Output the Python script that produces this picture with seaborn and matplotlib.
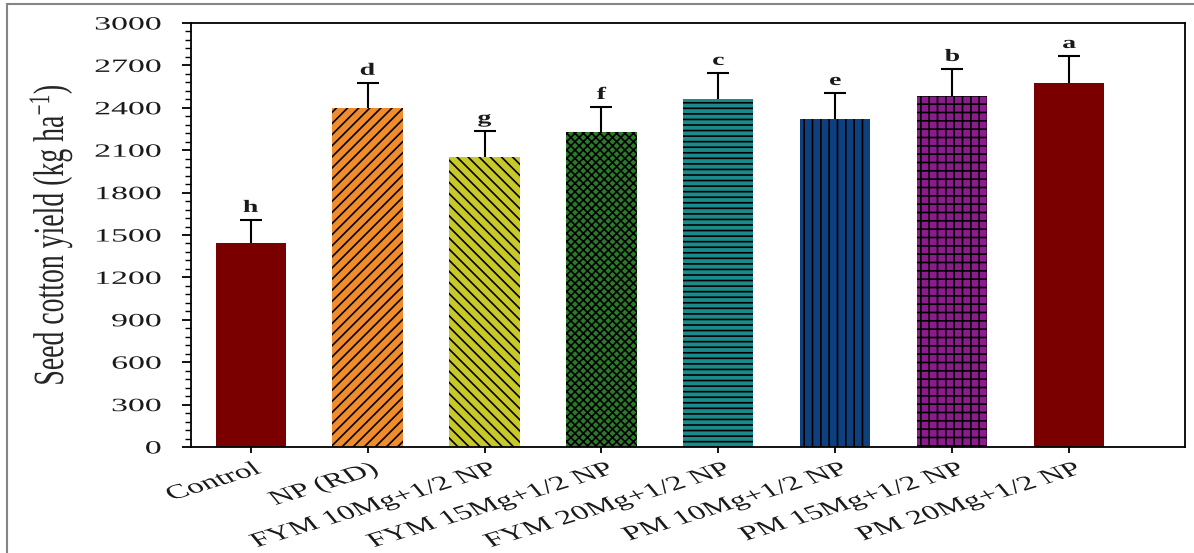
import numpy as np
import pandas as pd
import matplotlib
matplotlib.use("Agg")
import matplotlib.pyplot as plt
import seaborn as sns
from matplotlib.patheffects import AbstractPathEffect
from matplotlib.transforms import Affine2D, ScaledTranslation
from matplotlib.ticker import AutoMinorLocator, FixedLocator
from matplotlib.patches import Rectangle

# ---- data -----------------------------------------------------------------
treatments = ["Control", "NP (RD)", "FYM 10Mg+1/2 NP", "FYM 15Mg+1/2 NP",
              "FYM 20Mg+1/2 NP", "PM 10Mg+1/2 NP", "PM 15Mg+1/2 NP",
              "PM 20Mg+1/2 NP"]
seed_yield = [1445, 2400, 2055, 2229, 2463, 2321, 2484, 2576]
yield_err = [162, 177, 182, 177, 184, 184, 191, 191]
letters = ["h", "d", "g", "f", "c", "e", "b", "a"]
yticks = [0, 300, 600, 900, 1200, 1500, 1800, 2100, 2400, 2700, 3000]

# ---- styling --------------------------------------------------------------
bar_colors = ["#7A0000", "#F08C2C", "#C8C828", "#2A7A2A", "#1A8A8A",
              "#0E3F7E", "#8C1C8C", "#7A0000"]
bar_hatches = ["", "///", "\\\\\\", "xxxx", "---", "||", "++", ""]

sns.set_style("ticks")
plt.rcParams.update({
    "font.family": ["Liberation Serif", "DejaVu Serif"],
    "mathtext.fontset": "custom",
    "mathtext.rm": "Liberation Serif",
    "mathtext.it": "Liberation Serif:italic",
    "mathtext.bf": "Liberation Serif:bold",
    "hatch.color": "black",
    "hatch.linewidth": 1.2,
    "axes.linewidth": 1.3,
    "axes.edgecolor": "black",
    "text.color": "#1a1a1a",
    "xtick.color": "black",
    "ytick.color": "black",
    "xtick.labelcolor": "#1a1a1a",
    "ytick.labelcolor": "#1a1a1a",
})


class WideType(AbstractPathEffect):
    """Render text outlines widened horizontally about one edge of the ink."""

    def __init__(self, factor, keep="center"):
        super().__init__()
        self.factor = factor
        self.keep = keep

    def draw_path(self, renderer, gc, tpath, affine, rgbFace=None):
        ext = tpath.get_extents(affine)
        x0 = {"left": ext.x0, "right": ext.x1,
              "center": 0.5 * (ext.x0 + ext.x1)}[self.keep]
        wide = affine + Affine2D().translate(-x0, 0).scale(self.factor, 1).translate(x0, 0)
        renderer.draw_path(gc, tpath, wide, rgbFace)


df = pd.DataFrame({"treatment": treatments, "yield": seed_yield})

fig = plt.figure(figsize=(11.94, 5.53), dpi=100)
ax = fig.add_axes([191 / 1194, 1 - 447 / 553, (1185 - 191) / 1194, (447 - 23) / 553])

sns.barplot(data=df, x="treatment", y="yield", hue="treatment",
            palette=bar_colors, order=treatments, hue_order=treatments,
            width=0.6, saturation=1, errorbar=None, legend=False,
            edgecolor="black", linewidth=0, ax=ax)

for container, hatch in zip(ax.containers, bar_hatches):
    for bar in container:
        bar.set_hatch(hatch)
        bar.set_zorder(2)

xpos = np.arange(len(treatments))
ax.errorbar(xpos, seed_yield, yerr=yield_err, fmt="none", ecolor="black",
            elinewidth=1.5, capsize=8, capthick=1.5, zorder=1.5)

letter_fx = [WideType(1.6, "center")]
for x, y, e, lab in zip(xpos, seed_yield, yield_err, letters):
    ax.text(x, y + e + 28, lab, ha="center", va="bottom", fontsize=12.5,
            fontweight="bold", path_effects=letter_fx)

ax.set_xlim(-0.51, 7.99)
ax.set_ylim(0, 3000)
ax.yaxis.set_major_locator(FixedLocator(yticks))
ax.yaxis.set_minor_locator(AutoMinorLocator(5))
ax.set_yticks(yticks)
ax.set_yticklabels([str(v) for v in yticks])

ax.set_xticks(xpos)
ax.set_xticklabels(treatments, rotation=27, ha="right", va="top",
                   rotation_mode="anchor")
ax.set_xlabel("")

ax.tick_params(axis="y", which="major", direction="out", length=6.5,
               width=1.3, pad=15, labelsize=13.5)
ax.tick_params(axis="y", which="minor", direction="out", length=4, width=1.0)
ax.tick_params(axis="x", which="major", direction="out", length=4.5,
               width=1.3, pad=5, labelsize=14.5)

for t in ax.get_yticklabels():
    t.set_path_effects([WideType(1.8, "right")])
shift = ScaledTranslation(5 / 100, 0, fig.dpi_scale_trans)
for t in ax.get_xticklabels():
    t.set_path_effects([WideType(1.65, "right")])
    t.set_transform(t.get_transform() + shift)

ax.set_ylabel("Seed cotton yield (kg ha$^{-1}$)", fontsize=20)
ax.yaxis.label.set_va("center")
ax.yaxis.label.set_path_effects([WideType(1.55, "center")])
ax.yaxis.set_label_coords((51 - 191) / (1185 - 191), 0.5)

for side in ["top", "right", "bottom", "left"]:
    ax.spines[side].set_visible(True)
    ax.spines[side].set_linewidth(1.3)

# thin frame around the figure
fig.add_artist(Rectangle((7 / 1194, -0.05), 1.2, (1 - 4 / 553) + 0.05,
                         transform=fig.transFigure, fill=False,
                         edgecolor="#858585", linewidth=1.5))

fig.savefig("out.png", dpi=100)
